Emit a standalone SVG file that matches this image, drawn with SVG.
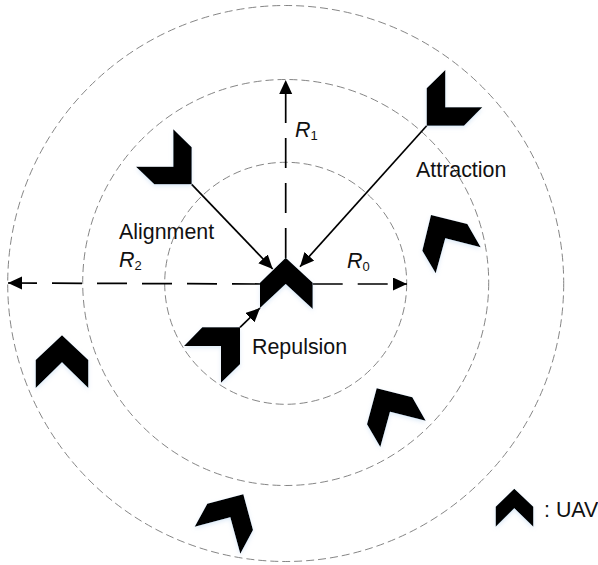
<svg xmlns="http://www.w3.org/2000/svg" width="598" height="565" viewBox="0 0 598 565">
<style>
.ring{fill:none;stroke:#777;stroke-width:0.9;stroke-dasharray:8 4}
.dash{fill:none;stroke:#000;stroke-width:1.7;stroke-dasharray:30 15}
.solid{fill:none;stroke:#000;stroke-width:1.7}
.uav{fill:#000;filter:url(#glow)}
text{font-family:"Liberation Sans",Arial,sans-serif;font-size:21.4px;fill:#111}
.r{font-style:italic}
.s{font-style:normal;font-size:13px}
</style>
<defs>
<filter id="glow" x="-20%" y="-20%" width="140%" height="140%"><feDropShadow dx="0" dy="2" stdDeviation="2" flood-color="#9fc4e8" flood-opacity="0.35"/></filter>
<marker id="a" markerUnits="userSpaceOnUse" markerWidth="16" markerHeight="14" refX="14" refY="6.5" orient="auto"><path d="M0 0L14 6.5L0 13z" fill="#000"/></marker>
</defs>
<g id="rings">
<circle class="ring" cx="285.7" cy="283.3" r="121"/>
<circle class="ring" cx="285.7" cy="282.5" r="203"/>
<circle class="ring" cx="285.7" cy="283.5" r="278"/>
</g>
<g id="connectors">
<path class="dash" d="M285.7 258V80" marker-end="url(#a)"/>
<path class="dash" d="M262 284L8 283" marker-end="url(#a)"/>
<path class="dash" d="M312.7 284L407 284" marker-end="url(#a)"/>
<path class="solid" d="M191.7 184.3L272.7 269" marker-end="url(#a)"/>
<path class="solid" d="M426.7 125.7L300 266.7" marker-end="url(#a)"/>
<path class="solid" d="M240 327.3L260 308" marker-end="url(#a)"/>
</g>
<g id="uav-center"><polygon class="uav" points="285.7,257.7 312.7,282.7 312.7,309 285.7,284 260,308 260,282.7"/></g>
<g id="uav-alignment"><polygon class="uav" points="173.3,129.3 191.7,147.3 191.7,184.3 154.3,184.3 136,166.7 173.3,166.7"/></g>
<g id="uav-attraction"><polygon class="uav" points="445.3,70 426.7,88.3 426.7,125.7 464,125.7 482.3,107.3 445.3,107.3"/></g>
<g id="uav-repulsion"><polygon class="uav" points="202.3,327.3 240,327.3 240,364.3 221,382.7 221,346 184,346"/></g>
<g id="uav-right"><polygon class="uav" points="431,215 467.3,224 480.7,247.3 445.3,238.3 435.7,273.3 422.3,250.7"/></g>
<g id="uav-lower-right"><polygon class="uav" points="376.7,388.3 412.3,397.3 425.7,420.7 390,411.7 380.3,447 367,424.3"/></g>
<g id="uav-bottom"><polygon class="uav" points="243.3,494.3 253,530 240.3,553.7 230.3,517.3 194.7,526.7 207.3,503.7"/></g>
<g id="uav-left"><polygon class="uav" points="62,335.3 88.3,360 88.3,388 62,362.3 35.7,388 35.7,360"/></g>
<g id="uav-legend"><polygon class="uav" points="514.3,488.7 533.3,506.7 533.3,526.7 514.3,508.3 495.7,526.7 495.7,506.7"/></g>
<g id="labels">
<text x="416" y="177">Attraction</text>
<text x="119" y="239">Alignment</text>
<text x="252" y="354">Repulsion</text>
<text class="r" x="295" y="137">R<tspan class="s" dy="3">1</tspan></text>
<text class="r" x="119" y="267">R<tspan class="s" dy="3">2</tspan></text>
<text class="r" x="347" y="268">R<tspan class="s" dy="3">0</tspan></text>
<text x="544" y="517">: UAV</text>
</g>
</svg>
